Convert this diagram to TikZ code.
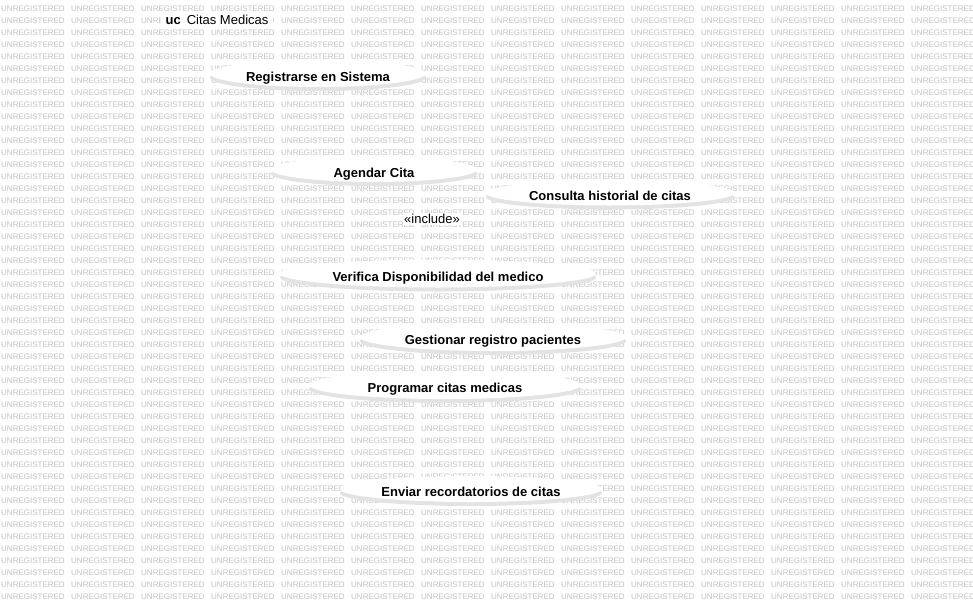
\documentclass[tikz,border=0pt]{standalone}
\usepackage{fontspec}
\setmainfont{Liberation Sans}
\usetikzlibrary{shapes.geometric}
\begin{document}
\begin{tikzpicture}[x=1pt,y=-1pt,
  wm/.style={anchor=base west, inner sep=0pt, text=black!24, font=\fontsize{8}{8}\selectfont},
  usecase/.style={ellipse, fill=white, inner sep=0pt, text height=15pt, text depth=0pt,
    font=\bfseries\fontsize{13}{13}\selectfont,
    preaction={fill=black!11, transform canvas={yshift=-4pt}}},
  plain/.style={fill=white, inner sep=1pt, font=\fontsize{13}{13}\selectfont}
 ]
\useasboundingbox (0,0) rectangle (973,610);
\fill[white] (0,0) rectangle (973,610);
\foreach \r in {0,...,49} {
  \foreach \c in {0,...,13} {
    \node[wm] at ({\c*70+1},{\r*12+11.5}) {UNREGISTERED};
  }
}
\node[plain, inner xsep=5pt, inner ysep=3pt] (title) at (217,20) {\textbf{uc}\hspace{6pt}Citas Medicas};
\node[usecase, minimum width=216, minimum height=27] (reg) at (318,73.5) {Registrarse en Sistema};
\node[usecase, minimum width=206, minimum height=25] (agendar) at (374,169.5) {Agendar Cita};
\node[usecase, minimum width=248, minimum height=25] (consulta) at (610,193) {Consulta historial de citas};
\node[plain] (incl) at (432,219) {«include»};
\node[usecase, minimum width=316, minimum height=28] (verifica) at (438,273.5) {Verifica Disponibilidad del medico};
\node[usecase, minimum width=266, minimum height=28] (gestionar) at (493,337) {Gestionar registro pacientes};
\node[usecase, minimum width=272, minimum height=28] (programar) at (445,385) {Programar citas medicas};
\node[usecase, minimum width=262, minimum height=26] (enviar) at (471,489) {Enviar recordatorios de citas};
\end{tikzpicture}
\end{document}
